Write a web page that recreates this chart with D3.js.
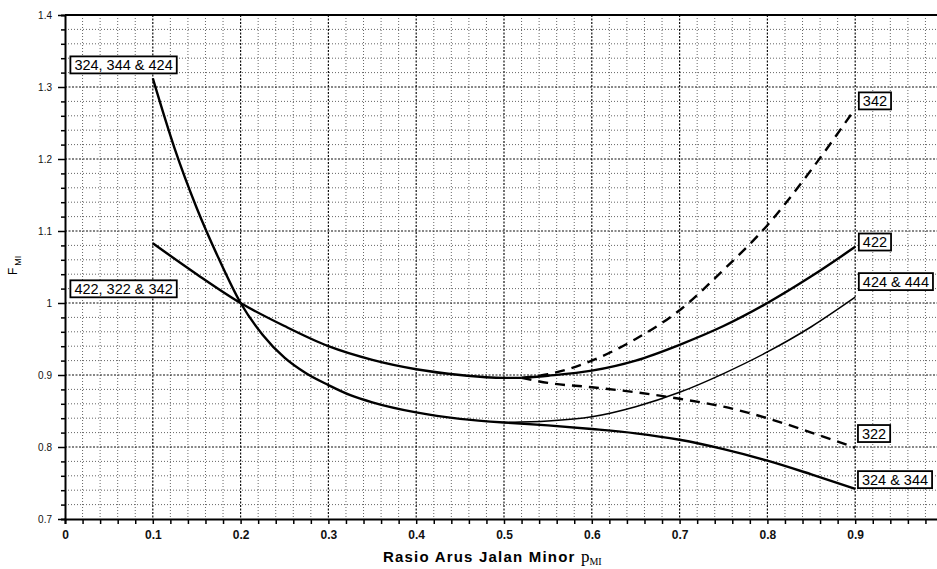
<!DOCTYPE html>
<html>
<head>
<meta charset="utf-8">
<script src="https://cdn.jsdelivr.net/npm/d3@7"></script>
<style>
  body { margin: 0; background: #fff; }
  svg { display: block; font-family: "Liberation Sans", Arial, sans-serif; }
</style>
</head>
<body>
<svg id="chart" width="937" height="569"></svg>
<script>
// values (p_MI -> F_MI)
const pMain324 = [0.1, 0.125, 0.15, 0.175, 0.2, 0.225, 0.25, 0.275, 0.3, 0.325, 0.35, 0.4, 0.45, 0.5];
const fMain324 = [1.312, 1.214, 1.132, 1.062, 1.0, 0.956, 0.924, 0.902, 0.886, 0.872, 0.862, 0.848, 0.839, 0.834];

const pMain422 = [0.1, 0.15, 0.2, 0.25, 0.3, 0.35, 0.4, 0.45, 0.5, 0.52];
const fMain422 = [1.083, 1.04, 1.0, 0.968, 0.940, 0.921, 0.908, 0.900, 0.896, 0.896];

const pBranch = [0.5, 0.55, 0.6, 0.65, 0.7, 0.75, 0.8, 0.85, 0.9];
const f324b = [0.834, 0.830, 0.825, 0.819, 0.810, 0.797, 0.781, 0.762, 0.742];
const f424b = [0.834, 0.836, 0.842, 0.856, 0.876, 0.902, 0.932, 0.967, 1.008];

const pBranch2 = [0.52, 0.55, 0.6, 0.65, 0.7, 0.75, 0.8, 0.85, 0.9];
const f422b = [0.896, 0.899, 0.906, 0.920, 0.942, 0.968, 1.0, 1.037, 1.078];
const f342b = [0.896, 0.901, 0.920, 0.950, 0.990, 1.046, 1.108, 1.185, 1.270];
const f322b = [0.896, 0.889, 0.883, 0.876, 0.867, 0.856, 0.840, 0.820, 0.799];

const xTicks = [0, 0.1, 0.2, 0.3, 0.4, 0.5, 0.6, 0.7, 0.8, 0.9];
const yTicks = [0.7, 0.8, 0.9, 1.0, 1.1, 1.2, 1.3, 1.4];

// label boxes: text, anchor p (left edge), anchor F (vertical centre)
const labelText = ["324, 344 & 424", "422, 322 & 342", "342", "422", "424 & 444", "322", "324 & 344"];
const labelP = [0.005, 0.005, 0.903, 0.903, 0.903, 0.902, 0.902];
const labelF = [1.331, 1.020, 1.281, 1.085, 1.030, 0.819, 0.755];

const svg = d3.select("#chart");
const plotLeft = 65, plotTop = 15, plotBottom = 519;

const x = d3.scaleLinear().domain([0, 1]).range([plotLeft, 943]);
const y = d3.scaleLinear().domain([0.7, 1.4]).range([plotBottom, plotTop]);

const minorX = d3.range(0, 1.001, 0.02);
const minorY = d3.range(0.7, 1.401, 0.02);
const isMajor = v => Math.abs(v * 10 - Math.round(v * 10)) < 1e-6;

// grid
const grid = svg.append("g");
grid.selectAll("line.vx").data(minorX.filter(v => v > 0)).enter().append("line")
  .attr("x1", d => x(d)).attr("x2", d => x(d))
  .attr("y1", plotTop).attr("y2", plotBottom)
  .attr("stroke", d => isMajor(d) ? "#111" : "#555")
  .attr("stroke-width", d => isMajor(d) ? 1.2 : 0.9)
  .attr("stroke-dasharray", d => isMajor(d) ? "2,1.5" : "1,2");
grid.selectAll("line.hy").data(minorY.filter(v => v > 0.71 && v < 1.39)).enter().append("line")
  .attr("x1", plotLeft).attr("x2", 937)
  .attr("y1", d => y(d)).attr("y2", d => y(d))
  .attr("stroke", d => isMajor(d) ? "#111" : "#555")
  .attr("stroke-width", d => isMajor(d) ? 1.2 : 0.9)
  .attr("stroke-dasharray", d => isMajor(d) ? "2,1.5" : "1,2");

// axes
const yAxis = svg.append("g").attr("transform", `translate(${plotLeft},0)`)
  .call(d3.axisLeft(y).tickValues(minorY).tickSize(4).tickFormat(""));
yAxis.selectAll(".tick line").attr("stroke-width", 1.5)
  .attr("x2", d => isMajor(d) ? -7 : -4);
yAxis.select(".domain").attr("stroke-width", 2);

const yLab = svg.append("g").attr("transform", `translate(${plotLeft},0)`)
  .call(d3.axisLeft(y).tickValues(yTicks).tickSize(0).tickPadding(13)
    .tickFormat(d => String(+d.toFixed(1))));
yLab.select(".domain").remove();
yLab.selectAll("text").attr("font-size", 10).attr("fill", "#111");

const xAxis = svg.append("g").attr("transform", `translate(0,${plotBottom})`)
  .call(d3.axisBottom(x).tickValues(minorX).tickSize(5).tickFormat(""));
xAxis.selectAll(".tick line").attr("stroke-width", 1.5);
xAxis.select(".domain").attr("stroke-width", 2);

const xLab = svg.append("g").attr("transform", `translate(0,${plotBottom})`)
  .call(d3.axisBottom(x).tickValues(xTicks).tickSize(0).tickPadding(11)
    .tickFormat(d => String(+d.toFixed(1))));
xLab.select(".domain").remove();
xLab.selectAll("text").attr("font-size", 12).attr("font-weight", "bold").attr("fill", "#111");

// top frame line
svg.append("line").attr("x1", plotLeft).attr("x2", 937)
  .attr("y1", plotTop).attr("y2", plotTop).attr("stroke", "#000").attr("stroke-width", 2);

// curves
const line = d3.line().x(d => x(d[0])).y(d => y(d[1])).curve(d3.curveMonotoneX);
const zip = (ps, fs) => ps.map((p, i) => [p, fs[i]]);

const curves = [
  { pts: zip(pMain324, fMain324), w: 2.4, dash: null },
  { pts: zip(pMain422, fMain422), w: 2.4, dash: null },
  { pts: zip(pBranch, f324b), w: 2.4, dash: null },
  { pts: zip(pBranch, f424b), w: 1.5, dash: null },
  { pts: zip(pBranch2, f422b), w: 2.4, dash: null },
  { pts: zip(pBranch2, f342b), w: 2.4, dash: "10,7" },
  { pts: zip(pBranch2, f322b), w: 2.4, dash: "10,7" }
];
svg.append("g").selectAll("path").data(curves).enter().append("path")
  .attr("d", d => line(d.pts))
  .attr("fill", "none")
  .attr("stroke", "#000")
  .attr("stroke-width", d => d.w)
  .attr("stroke-dasharray", d => d.dash);

// label boxes
const lab = svg.append("g").selectAll("g").data(labelText).enter().append("g");
lab.append("text")
  .attr("x", (d, i) => x(labelP[i]) + 5)
  .attr("y", (d, i) => y(labelF[i]))
  .attr("dy", "0.36em")
  .attr("font-size", 14.5)
  .attr("fill", "#000")
  .text(d => d);
lab.each(function() {
  const g = d3.select(this);
  const b = g.select("text").node().getBBox();
  g.insert("rect", "text")
    .attr("x", b.x - 4).attr("y", b.y - 0.5)
    .attr("width", b.width + 8).attr("height", b.height + 1)
    .attr("fill", "#fff").attr("stroke", "#000").attr("stroke-width", 1.8);
});

// axis titles
const xt = svg.append("text").attr("x", 383).attr("y", 562)
  .attr("font-size", 15).attr("font-weight", "bold").attr("fill", "#000");
xt.append("tspan").attr("letter-spacing", 1.2).text("Rasio Arus Jalan Minor ");
xt.append("tspan").attr("font-family", "'Liberation Serif', serif").attr("font-weight", "normal")
  .attr("font-size", 17).text("p");
xt.append("tspan").attr("font-family", "'Liberation Serif', serif").attr("font-weight", "normal")
  .attr("font-size", 10).attr("dy", 3).text("MI");

const yt = svg.append("text").attr("transform", "translate(17,275) rotate(-90)")
  .attr("font-size", 12).attr("fill", "#000");
yt.append("tspan").text("F");
yt.append("tspan").attr("font-size", 9).attr("dy", 4).attr("dx", 2).text("MI");
</script>
</body>
</html>
